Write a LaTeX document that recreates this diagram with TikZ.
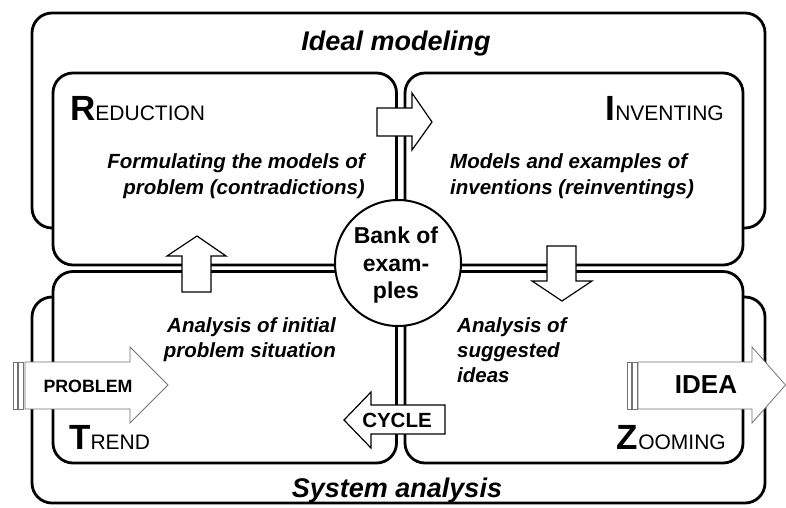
\documentclass[tikz,border=0pt]{standalone}
\usepackage{fontspec}
\setmainfont{Liberation Sans}
\newcommand{\fs}[1]{\fontsize{#1}{#1}\selectfont}
\begin{document}
\begin{tikzpicture}[x=1pt,y=-1pt,
  frame/.style={draw=black, line width=2.8pt, rounded corners=20pt, fill=white},
  blockarrow/.style={draw=black, line width=1.2pt, fill=white, line join=miter},
  stripearrow/.style={draw=black!55, line width=0.8pt, fill=white, line join=miter},
  bank/.style={draw=black, line width=2pt, fill=white, circle, minimum size=126pt, inner sep=0pt},
  lbl/.style={font=\fs{20.5}\bfseries\itshape, inner sep=0pt},
  head/.style={font=\fs{27}\bfseries\itshape, inner sep=0pt},
  caps/.style={inner sep=0pt},
  btxt/.style={font=\bfseries, inner sep=0pt}]
\useasboundingbox (0,0) rectangle (786,507);
% outer frames
\draw[frame] (32,13) rectangle (765,228);
\draw[frame] (32,297) rectangle (765,503);
% inner frames
\draw[frame] (53,73) rectangle (396.5,265);
\draw[frame] (405,73) rectangle (743,265);
\draw[frame] (53,271.5) rectangle (396.5,463);
\draw[frame] (405,271.5) rectangle (743,463);
% central bank
\node[bank] (bankc) at (398,263) {};
\node[font=\fs{23}\bfseries, inner sep=0pt, anchor=base] (bank1) at (396,243) {Bank of};
\node[font=\fs{23}\bfseries, inner sep=0pt, anchor=base] (bank2) at (396,271) {exam-};
\node[font=\fs{23}\bfseries, inner sep=0pt, anchor=base] (bank3) at (396,298) {ples};
% block arrows
\draw[blockarrow] (377,108) -- (412,108) -- (412,93) -- (432,122) -- (412,150) -- (412,136) -- (377,136) -- cycle;
\draw[blockarrow] (182,292) -- (182,256) -- (167,256) -- (197,236) -- (226,256) -- (211,256) -- (211,292) -- cycle;
\draw[blockarrow] (547,246) -- (576,246) -- (576,281) -- (592,281) -- (562,301) -- (532,281) -- (547,281) -- cycle;
\draw[blockarrow] (445,405) -- (371,405) -- (371,392) -- (344,420) -- (371,448) -- (371,434) -- (445,434) -- cycle;
\node[btxt, font=\fs{20.5}\bfseries, anchor=base] (cycle) at (397,427) {CYCLE};
% striped arrows
\draw[stripearrow] (13,362) rectangle (17,409);
\draw[stripearrow] (18.5,362) rectangle (23,409);
\draw[stripearrow] (25,362) -- (130,362) -- (130,347) -- (168,385) -- (130,423) -- (130,409) -- (25,409) -- cycle;
\node[btxt, font=\fs{17.8}\bfseries, anchor=base] (problem) at (88,392) {PROBLEM};
\draw[stripearrow] (627,362) rectangle (631,409);
\draw[stripearrow] (632.5,362) rectangle (637,409);
\draw[stripearrow] (638,362) -- (752,362) -- (752,347) -- (785.5,385) -- (752,423) -- (752,409) -- (638,409) -- cycle;
\node[btxt, font=\fs{26}\bfseries, anchor=base] (idea) at (706,393) {IDEA};
% headings
\node[head, anchor=base] (ideal) at (396,50) {Ideal modeling};
\node[head, anchor=base] (system) at (397,497) {System analysis};
% quadrant names
\node[caps, anchor=base west] (red) at (70,120) {{\fs{35}\bfseries R}{\fs{21}EDUCTION}};
\node[caps, anchor=base east] (inv) at (724,120) {{\fs{35}\bfseries I}{\fs{21}NVENTING}};
\node[caps, anchor=base west] (trend) at (69,449) {{\fs{35}\bfseries T}{\fs{21}REND}};
\node[caps, anchor=base east] (zoom) at (726,449) {{\fs{35}\bfseries Z}{\fs{21}OOMING}};
% descriptions
\node[lbl, anchor=base east] (f1) at (365,168) {Formulating the models of};
\node[lbl, anchor=base east] (f2) at (365,194) {problem (contradictions)};
\node[lbl, anchor=base west] (m1) at (450,168) {Models and examples of};
\node[lbl, anchor=base west] (m2) at (450,194) {inventions (reinventings)};
\node[lbl, anchor=base east] (a1) at (336,332) {Analysis of initial};
\node[lbl, anchor=base east] (a2) at (336,357) {problem situation};
\node[lbl, anchor=base west] (s1) at (457,332) {Analysis of};
\node[lbl, anchor=base west] (s2) at (457,357) {suggested};
\node[lbl, anchor=base west] (s3) at (457,382) {ideas};
\end{tikzpicture}
\end{document}
